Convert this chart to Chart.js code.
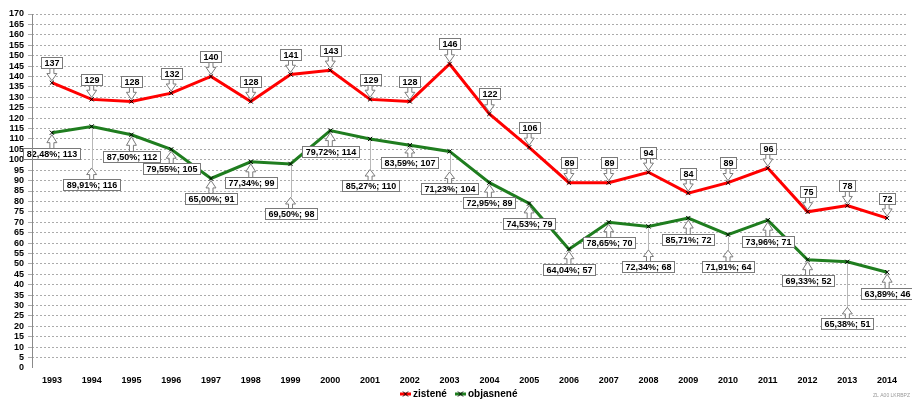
<!DOCTYPE html>
<html><head><meta charset="utf-8">
<script src="https://cdn.jsdelivr.net/npm/chart.js@4/dist/chart.umd.min.js"></script>
<style>html,body{margin:0;padding:0;background:#fff}#wrap{width:912px;height:401px;position:relative}</style>
</head><body><div id="wrap"><canvas id="c"></canvas></div>
<script>
const years = ['1993','1994','1995','1996','1997','1998','1999','2000','2001','2002','2003','2004','2005','2006','2007','2008','2009','2010','2011','2012','2013','2014'];
const zistene = [137,129,128,132,140,128,141,143,129,128,146,122,106,89,89,94,84,89,96,75,78,72];
const objasnene = [113,116,112,105,91,99,98,114,110,107,104,89,79,57,70,68,72,64,71,52,51,46];
const objasnenost = ['82,48%','89,91%','87,50%','79,55%','65,00%','77,34%','69,50%','79,72%','85,27%','83,59%','71,23%','72,95%','74,53%','64,04%','78,65%','72,34%','85,71%','71,91%','73,96%','69,33%','65,38%','63,89%'];

// label placement (pixels below the point, style only)
const greenLabelDrop = [21,58,22,19,20,21,50,21,47,17,37,20,20,20,20,40,21,32,21,21,62,21];

const LABEL_FONT = 'bold 9px "Liberation Sans", Arial, sans-serif';

function drawArrow(ctx, x, yFrom, yTo) {
  const L = yTo - yFrom;
  const yh = yFrom + L * 0.45;
  ctx.beginPath();
  ctx.moveTo(x - 2, yFrom);
  ctx.lineTo(x - 2, yh);
  ctx.lineTo(x - 5, yh);
  ctx.lineTo(x, yTo);
  ctx.lineTo(x + 5, yh);
  ctx.lineTo(x + 2, yh);
  ctx.lineTo(x + 2, yFrom);
  ctx.fillStyle = '#fff';
  ctx.fill();
  ctx.strokeStyle = '#7a7a7a';
  ctx.lineWidth = 1;
  ctx.stroke();
}
function drawBox(ctx, cx, cy, text) {
  ctx.font = LABEL_FONT;
  const w = Math.round(ctx.measureText(text).width + 6);
  const h = 11;
  const x0 = Math.round(cx - w / 2) + 0.5, y0 = Math.round(cy - h / 2) + 0.5;
  ctx.fillStyle = '#fff';
  ctx.fillRect(x0, y0, w, h);
  ctx.strokeStyle = '#7a7a7a';
  ctx.lineWidth = 1;
  ctx.strokeRect(x0, y0, w, h);
  ctx.fillStyle = '#000';
  ctx.textAlign = 'center';
  ctx.textBaseline = 'middle';
  ctx.fillText(text, x0 + w / 2, y0 + h / 2 + 0.5);
}
function drawMarker(ctx, x, y, r) {
  ctx.beginPath();
  ctx.moveTo(x - r, y - r); ctx.lineTo(x + r, y + r);
  ctx.moveTo(x - r, y + r); ctx.lineTo(x + r, y - r);
  ctx.strokeStyle = '#000'; ctx.lineWidth = 1; ctx.stroke();
}

const calloutPlugin = {
  id: 'callouts',
  afterDatasetsDraw(chart) {
    const ctx = chart.ctx;
    ctx.save();
    const m0 = chart.getDatasetMeta(0);
    m0.data.forEach((pt, i) => {
      const cy = pt.y - 20;
      drawArrow(ctx, pt.x, cy + 5, pt.y - 2);
      drawBox(ctx, pt.x, cy, String(zistene[i]));
    });
    const m1 = chart.getDatasetMeta(1);
    m1.data.forEach((pt, i) => {
      const drop = greenLabelDrop[i];
      const cy = pt.y + drop;
      const boxTop = cy - 5.5;
      let tip = pt.y + 2;
      if (drop > 25) {
        tip = boxTop - 11;
        ctx.beginPath();
        ctx.moveTo(Math.round(pt.x) + 0.5, pt.y + 2);
        ctx.lineTo(Math.round(pt.x) + 0.5, tip);
        ctx.strokeStyle = '#b8b8b8'; ctx.lineWidth = 1; ctx.stroke();
      }
      drawArrow(ctx, pt.x, boxTop + 1, tip);
      drawBox(ctx, pt.x, cy, objasnenost[i] + '; ' + objasnene[i]);
    });
    ctx.restore();
  },
  afterDraw(chart) {
    const ctx = chart.ctx;
    ctx.save();
    // solid y-axis line
    const a = chart.chartArea;
    ctx.beginPath();
    ctx.moveTo(a.left + 0.5, a.top); ctx.lineTo(a.left + 0.5, a.bottom);
    ctx.strokeStyle = '#8a8a8a'; ctx.lineWidth = 1; ctx.stroke();

    const y = 394;
    const items = [
      {label: chart.data.datasets[0].label, color: '#ff0000', x: 400},
      {label: chart.data.datasets[1].label, color: '#1f7d1f', x: 455}
    ];
    ctx.font = 'bold 10px "Liberation Sans Narrow", "Liberation Sans", sans-serif';
    ctx.textBaseline = 'middle'; ctx.textAlign = 'left';
    items.forEach(it => {
      ctx.beginPath(); ctx.moveTo(it.x, y); ctx.lineTo(it.x + 11, y);
      ctx.strokeStyle = it.color; ctx.lineWidth = 3; ctx.stroke();
      drawMarker(ctx, it.x + 5.5, y, 2.5);
      ctx.fillStyle = '#000';
      ctx.fillText(it.label, it.x + 13, y);
    });
    ctx.font = '5px "Liberation Sans", sans-serif';
    ctx.fillStyle = '#9a9a9a';
    ctx.textAlign = 'right';
    ctx.fillText('ZL A00 LKRBPZ', 910, 396);
    ctx.restore();
  }
};

const tickFont = {family: '"Liberation Sans Narrow", "Liberation Sans", sans-serif', size: 9, weight: 'bold'};

new Chart(document.getElementById('c'), {
  type: 'line',
  data: {
    labels: years,
    datasets: [
      {label: 'zistené', data: zistene, borderColor: '#ff0000', borderWidth: 3, tension: 0,
       pointStyle: 'crossRot', pointRadius: 3, pointBorderColor: '#000', pointBackgroundColor: '#000', pointBorderWidth: 1},
      {label: 'objasnené', data: objasnene, borderColor: '#1f7d1f', borderWidth: 3, tension: 0,
       pointStyle: 'crossRot', pointRadius: 3, pointBorderColor: '#000', pointBackgroundColor: '#000', pointBorderWidth: 1}
    ]
  },
  options: {
    responsive: true, maintainAspectRatio: false, animation: false, devicePixelRatio: 1,
    layout: {padding: {left: 2, right: 2, top: 14, bottom: 0}},
    plugins: {legend: {display: false}, tooltip: {enabled: false}},
    scales: {
      x: {
        offset: true,
        grid: {display: false, drawTicks: false, tickLength: 0},
        border: {display: false},
        ticks: {font: tickFont, color: '#000', padding: 7, maxRotation: 0, autoSkip: false},
        afterFit(s) { s.height = 33; }
      },
      y: {
        min: 0, max: 170,
        ticks: {stepSize: 5, autoSkip: false, font: tickFont, color: '#000', padding: 4},
        grid: {color: c => c.tick && c.tick.value === 0 ? 'rgba(0,0,0,0)' : '#ababab', lineWidth: 1, tickLength: 4},
        border: {display: false, dash: [2, 2]},
        afterFit(s) { s.width = 30; }
      }
    }
  },
  plugins: [calloutPlugin]
});
</script>
</body></html>
